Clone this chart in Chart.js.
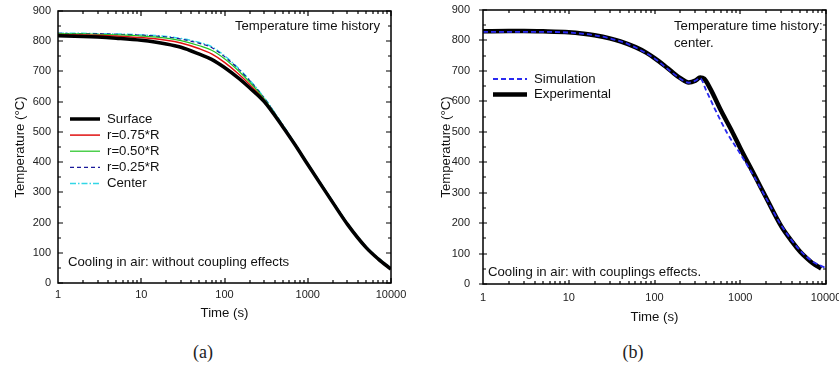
<!DOCTYPE html>
<html>
<head>
<meta charset="utf-8">
<script src="https://cdn.jsdelivr.net/npm/chart.js@4"></script>
<style>
  html, body { margin:0; padding:0; background:#fff; overflow:hidden; width:839px; height:369px; }
  .box { position:absolute; top:0; height:330px; }
  #boxA { left:0; width:420px; }
  #boxB { left:420px; width:440px; }
  .cap { position:absolute; top:342px; width:60px; text-align:center; line-height:26px;
         font:18px "Liberation Serif", serif; color:#222; }
</style>
</head>
<body>
<div id="boxA" class="box"><canvas id="chartA"></canvas></div>
<div id="boxB" class="box"><canvas id="chartB"></canvas></div>
<div class="cap" style="left:173px">(a)</div>
<div class="cap" style="left:603px">(b)</div>
<script>
// --- data (a): cooling without coupling effects ---
const timeA   = [1, 2, 3, 5, 10, 20, 30, 50, 70, 100, 150, 200, 300, 500, 700, 1000, 1500, 2000, 3000, 5000, 7000, 10000];
const surface = [818, 816, 814, 810, 803, 791, 780, 757, 740, 713, 676, 646, 600, 517, 458, 392, 318, 266, 194, 118, 80, 46];
const r075    = [822, 821, 820, 817, 812, 803, 794, 775, 758, 730, 690, 657, 605, 520, 460, 394, 320, 268, 196, 119, 81, 47];
const r050    = [825, 824, 823, 821, 817, 810, 802, 785, 770, 742, 700, 665, 609, 522, 461, 395, 321, 269, 197, 120, 82, 48];
const r025    = [826, 825, 825, 823, 820, 814, 807, 793, 779, 749, 706, 670, 612, 523, 462, 395, 322, 270, 197, 121, 82, 48];
const center  = [826, 826, 825, 824, 821, 816, 809, 796, 782, 752, 708, 672, 613, 524, 462, 396, 322, 270, 198, 121, 83, 49];

// --- data (b): center, with coupling effects ---
const timeExp      = [1, 2, 3, 5, 10, 15, 20, 30, 40, 60, 80, 100, 130, 160, 200, 250, 300, 340, 380, 450, 600, 800, 1000, 1500, 2000, 3000, 4000, 5000, 6000, 7000, 8800];
const experimental = [830, 831, 831, 830, 827, 822, 817, 807, 797, 778, 760, 742, 718, 697, 676, 662, 668, 678, 674, 640, 568, 502, 447, 352, 284, 190, 140, 106, 84, 68, 51];
const timeSim      = [1, 2, 5, 10, 20, 30, 50, 100, 150, 200, 250, 300, 340, 400, 500, 700, 1000, 1500, 2000, 3000, 5000, 7000, 10000];
const simulation   = [828, 828, 828, 826, 817, 807, 787, 741, 701, 674, 661, 668, 676, 636, 578, 497, 428, 346, 282, 193, 110, 74, 52];

const timeTicks = [1, 10, 100, 1000, 10000];
const FONT = '"Liberation Sans", Arial, sans-serif';
const TXT = 13.2;

const pts = (xs, ys) => xs.map((x, i) => ({ x, y: ys[i] }));

// frame with inward ticks, inner legend and text notes
const decor = {
  id: 'decor',
  afterDraw(chart) {
    const c = chart.config.options.decorCfg;
    const ctx = chart.ctx;
    const a = chart.chartArea;
    const sx = chart.scales.x, sy = chart.scales.y;
    const f = c.frame;
    const L = Math.round(a.left), R = Math.round(a.right);
    const T = Math.round(a.top), B = Math.round(a.bottom);

    ctx.save();
    ctx.strokeStyle = '#000';
    ctx.setLineDash([]);
    ctx.lineWidth = 1.5;
    ctx.strokeRect(L, T, R - L, B - T);
    ctx.lineWidth = 1.2;
    ctx.beginPath();
    for (let d = 1; d < 10000; d *= 10) {
      for (let m = 2; m <= 10; m++) {
        const px = Math.round(sx.getPixelForValue(d * m));
        const len = m === 10 ? f.major : f.minor;
        ctx.moveTo(px, B); ctx.lineTo(px, B - len);
        ctx.moveTo(px, T); ctx.lineTo(px, T + len);
      }
    }
    for (let v = 0; v <= 900; v += 50) {
      const py = Math.round(sy.getPixelForValue(v));
      const len = v % 100 === 0 ? f.major : f.minor;
      const out = v % 100 === 0 ? f.outLeft : 0;
      ctx.moveTo(L - out, py); ctx.lineTo(L + len, py);
      ctx.moveTo(R, py); ctx.lineTo(R - len, py);
    }
    ctx.stroke();

    ctx.font = TXT + 'px ' + FONT;
    ctx.textBaseline = 'middle';
    const g = c.legend;
    chart.data.datasets.forEach((ds, i) => {
      const yy = g.y + i * g.gap;
      ctx.strokeStyle = ds.borderColor;
      ctx.lineWidth = ds.borderWidth;
      ctx.setLineDash(ds.borderDash || []);
      ctx.beginPath();
      ctx.moveTo(g.x, yy); ctx.lineTo(g.x + g.len, yy);
      ctx.stroke();
      ctx.setLineDash([]);
      ctx.fillStyle = '#111';
      ctx.fillText(ds.label, g.x + g.len + 7, yy);
    });
    ctx.fillStyle = '#111';
    c.notes.forEach(n => {
      ctx.textAlign = n.align || 'left';
      ctx.fillText(n.text, n.x, n.y);
    });
    ctx.restore();
  }
};

function makeChart(id, datasets, c) {
  const tickFont = { family: FONT, size: 11 };
  const titleFont = { family: FONT, size: TXT };
  return new Chart(document.getElementById(id), {
    type: 'line',
    data: { datasets },
    options: {
      responsive: true,
      maintainAspectRatio: false,
      animation: false,
      decorCfg: c,
      layout: { padding: { left: 0, top: c.top, right: c.right, bottom: 0 } },
      elements: { point: { radius: 0 }, line: { cubicInterpolationMode: 'monotone' } },
      plugins: {
        legend: { display: false },
        tooltip: { enabled: false }
      },
      scales: {
        x: {
          type: 'logarithmic', min: 1, max: 10000,
          afterBuildTicks: s => { s.ticks = timeTicks.map(v => ({ value: v })); },
          afterFit: s => { s.height = c.xHeight; s.paddingLeft = 0; s.paddingRight = 0; },
          grid: { display: false, drawTicks: false },
          border: { display: false },
          ticks: { font: tickFont, color: '#222', padding: c.xPad, maxRotation: 0, autoSkip: false, callback: v => String(v) },
          title: { display: true, text: 'Time (s)', font: titleFont, color: '#111', padding: { top: 0, bottom: c.xTitlePad } }
        },
        y: {
          min: 0, max: 900,
          afterFit: s => { s.width = c.yWidth; s.paddingTop = 0; s.paddingBottom = 0; },
          grid: { display: false, drawTicks: false },
          border: { display: false },
          ticks: { stepSize: 100, font: tickFont, color: '#222', padding: c.yPad },
          title: { display: true, text: 'Temperature (°C)', font: titleFont, color: '#111', padding: { top: c.yTitlePad, bottom: 0 } }
        }
      }
    },
    plugins: [decor]
  });
}

makeChart('chartA', [
  { label: 'Surface',  data: pts(timeA, surface), borderColor: '#000', borderWidth: 3.5 },
  { label: 'r=0.75*R', data: pts(timeA, r075),   borderColor: '#e01010', borderWidth: 1.5 },
  { label: 'r=0.50*R', data: pts(timeA, r050),   borderColor: '#22c422', borderWidth: 1.2 },
  { label: 'r=0.25*R', data: pts(timeA, r025),   borderColor: '#1a1a9a', borderWidth: 1.2, borderDash: [4, 3] },
  { label: 'Center',   data: pts(timeA, center), borderColor: '#33d6e6', borderWidth: 1.5, borderDash: [6, 2, 1.5, 2] }
], {
  top: 11, right: 29, xHeight: 47, yWidth: 58, xPad: 5, yPad: 7, xTitlePad: 9, yTitlePad: 12,
  frame: { major: 5, minor: 3, outLeft: 0 },
  legend: { x: 70, y: 119, gap: 16.1, len: 30 },
  notes: [
    { text: 'Temperature time history', x: 380, y: 26, align: 'right' },
    { text: 'Cooling in air: without coupling effects', x: 68, y: 262 }
  ]
});

makeChart('chartB', [
  { label: 'Simulation',   data: pts(timeSim, simulation),   borderColor: '#2a2af0', borderWidth: 1.8, borderDash: [5, 3] },
  { label: 'Experimental', data: pts(timeExp, experimental), borderColor: '#000', borderWidth: 4.5 }
], {
  top: 10, right: 34, xHeight: 46, yWidth: 63, xPad: 7, yPad: 13, xTitlePad: 5, yTitlePad: 18,
  frame: { major: 4, minor: 3, outLeft: 4 },
  legend: { x: 73, y: 79, gap: 15.5, len: 34 },
  notes: [
    { text: 'Temperature time history:', x: 254, y: 26 },
    { text: 'center.', x: 254, y: 43 },
    { text: 'Cooling in air: with couplings effects.', x: 68, y: 272 }
  ]
});
</script>
</body>
</html>
